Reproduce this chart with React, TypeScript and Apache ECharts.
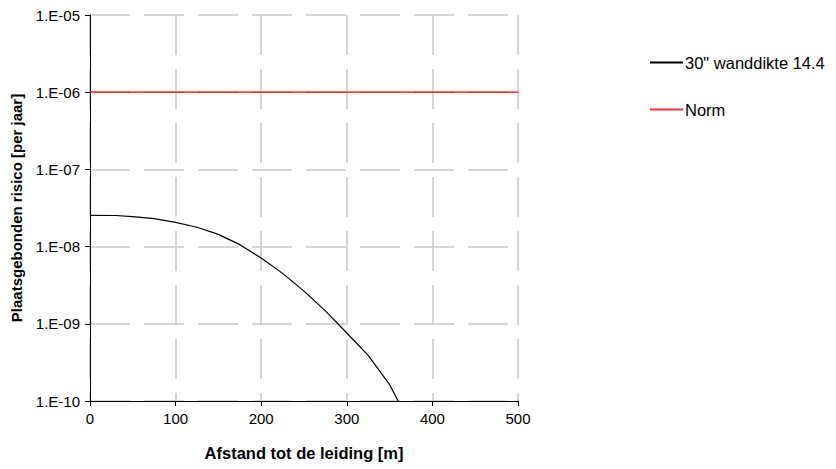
import React, { useEffect, useRef } from "react";
import * as echarts from "echarts";

const distances = [0, 30, 50, 75, 100, 125, 150, 175, 200, 225, 250, 275, 300, 325, 350, 360];
const risk = [2.54e-8, 2.53e-8, 2.45e-8, 2.3e-8, 2.06e-8, 1.78e-8, 1.44e-8, 1.06e-8, 7.1e-9, 4.5e-9, 2.65e-9, 1.47e-9, 7.6e-10, 3.9e-10, 1.63e-10, 1.0e-10];
const normX = [0, 500];
const normY = [1e-6, 1e-6];
const seriesNames = ['30" wanddikte 14.4', "Norm"];

const FONT = "Liberation Sans, Arial, sans-serif";

export default function App() {
  const ref = useRef<HTMLDivElement>(null);
  useEffect(() => {
    const chart = echarts.init(ref.current!, null, { renderer: "svg" });
    const gridLine = { show: true, lineStyle: { color: "#c8c8c8", width: 1.5, type: [40, 14] as any } };
    chart.setOption({
      animation: false,
      backgroundColor: "#ffffff",
      textStyle: { fontFamily: FONT },
      grid: { left: 90, right: 318, top: 15, bottom: 68, containLabel: false },
      legend: {
        orient: "vertical",
        left: 645,
        top: 49,
        itemWidth: 33,
        itemHeight: 2,
        itemGap: 30,
        icon: "rect",
        textStyle: { fontSize: 16.5, color: "#000", fontFamily: FONT, padding: [0, 0, 0, -3] },
        data: seriesNames,
      },
      xAxis: {
        type: "value",
        min: 0,
        max: 500,
        interval: 100,
        name: "Afstand tot de leiding [m]",
        nameLocation: "middle",
        nameGap: 43,
        nameTextStyle: { fontSize: 16.5, fontWeight: "bold", color: "#000", fontFamily: FONT },
        axisLine: { show: true, onZero: false, lineStyle: { color: "#000", width: 1 } },
        axisTick: { show: true, inside: false, length: 5, lineStyle: { color: "#000" } },
        axisLabel: { fontSize: 15, color: "#000", margin: 10, fontFamily: FONT },
        splitLine: gridLine,
      },
      yAxis: {
        type: "log",
        logBase: 10,
        min: 1e-10,
        max: 1e-5,
        splitNumber: 5,
        name: "Plaatsgebonden risico [per jaar]",
        nameLocation: "middle",
        nameGap: 66,
        nameTextStyle: { fontSize: 15, fontWeight: "bold", color: "#000", fontFamily: FONT },
        axisLine: { show: true, lineStyle: { color: "#000", width: 1 } },
        axisTick: { show: true, inside: false, length: 5, lineStyle: { color: "#000" } },
        minorTick: { show: false },
        axisLabel: {
          fontSize: 15,
          color: "#000",
          margin: 10,
          fontFamily: FONT,
          formatter: (v: number) => {
            const e = Math.round(Math.log10(v));
            const a = Math.abs(e);
            return "1.E" + (e < 0 ? "-" : "+") + (a < 10 ? "0" + a : String(a));
          },
        },
        splitLine: gridLine,
      },
      series: [
        {
          name: seriesNames[0],
          type: "line",
          data: distances.map((d, i) => [d, risk[i]]),
          showSymbol: false,
          symbol: "none",
          lineStyle: { color: "#000000", width: 1.2 },
          itemStyle: { color: "#000000" },
        },
        {
          name: seriesNames[1],
          type: "line",
          data: normX.map((d, i) => [d, normY[i]]),
          showSymbol: false,
          symbol: "none",
          lineStyle: { color: "#ff0000", width: 1.2 },
          itemStyle: { color: "#ff3333" },
        },
      ],
    });
    return () => chart.dispose();
  }, []);
  return <div ref={ref} style={{ width: 836, height: 469, position: "absolute", left: 0, top: 0 }} />;
}
